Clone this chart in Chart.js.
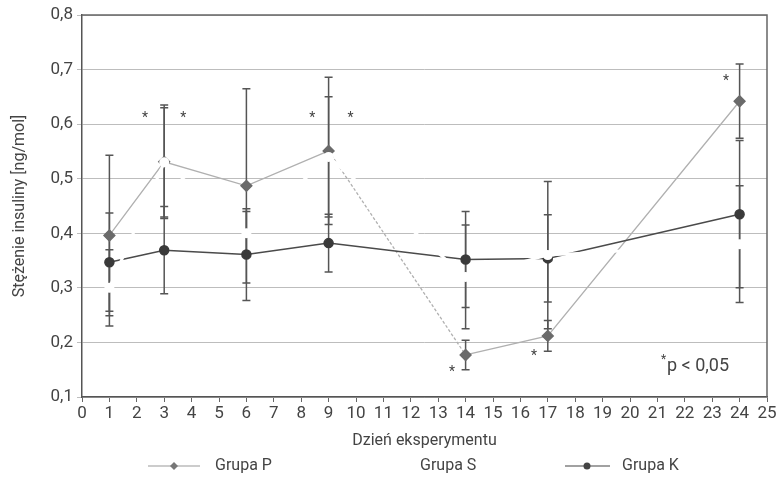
<!DOCTYPE html>
<html>
<head>
<meta charset="utf-8">
<script src="https://cdn.jsdelivr.net/npm/chart.js@4.4.1/dist/chart.umd.min.js"></script>
<style>
    html, body { margin: 0; padding: 0; background: #fff; }
    #wrap { width: 783px; height: 491px; position: relative; }
</style>
</head>
<body>
<div id="wrap"><canvas id="insulinChart"></canvas></div>
<script>
// Days of the experiment
const days = [1, 3, 6, 9, 14, 17, 24];

// Means
const grupaP = [0.396, 0.531, 0.487, 0.551, 0.177, 0.212, 0.642];
const grupaS = [0.300, 0.530, 0.400, 0.540, 0.320, 0.360, 0.380];
const grupaK = [0.347, 0.369, 0.361, 0.382, 0.352, 0.354, 0.435];

// Error bars (+/-)
const errP = [0.147, 0.104, 0.178, 0.135, 0.027, 0.028, 0.068];
const errS = [0.070, 0.100, 0.040, 0.110, 0.095, 0.135, 0.107];
const errK = [0.090, 0.080, 0.084, 0.053, 0.088, 0.080, 0.135];

// Significance markers (*)
const starX = [2.3, 3.7, 8.4, 9.8, 13.5, 16.5, 23.5];
const starY = [0.615, 0.615, 0.615, 0.615, 0.150, 0.180, 0.684];

const yTicks = [0.1, 0.2, 0.3, 0.4, 0.5, 0.6, 0.7, 0.8];

const FONT = "Roboto, 'Liberation Sans Narrow', sans-serif";
const TEXT = '#444';

function toPoints(vals) {
    return days.map(function(d, i) { return {x: d, y: vals[i]}; });
}

const extras = {
    id: 'extras',
    beforeDatasetsDraw(chart) {
        const ctx = chart.ctx;
        const x = chart.scales.x, y = chart.scales.y;
        ctx.save();
        ctx.strokeStyle = '#555';
        ctx.lineWidth = 1.5;
        [[grupaP, errP], [grupaK, errK], [grupaS, errS]].forEach(function(pair) {
            const vals = pair[0], errs = pair[1];
            days.forEach(function(d, i) {
                const px = x.getPixelForValue(d);
                const top = y.getPixelForValue(vals[i] + errs[i]);
                const bot = y.getPixelForValue(vals[i] - errs[i]);
                ctx.beginPath();
                ctx.moveTo(px, top); ctx.lineTo(px, bot);
                ctx.moveTo(px - 4, top); ctx.lineTo(px + 4, top);
                ctx.moveTo(px - 4, bot); ctx.lineTo(px + 4, bot);
                ctx.stroke();
            });
        });
        ctx.restore();
    },
    afterDraw(chart) {
        const ctx = chart.ctx;
        const area = chart.chartArea;
        const x = chart.scales.x, y = chart.scales.y;
        ctx.save();

        // frame top / right
        ctx.strokeStyle = '#666';
        ctx.lineWidth = 1.5;
        ctx.beginPath();
        ctx.moveTo(area.left, area.top);
        ctx.lineTo(area.right, area.top);
        ctx.lineTo(area.right, area.bottom);
        ctx.stroke();

        // asterisks
        ctx.fillStyle = '#444';
        ctx.font = '14px ' + FONT;
        ctx.textAlign = 'center';
        ctx.textBaseline = 'middle';
        starX.forEach(function(sx, i) {
            ctx.fillText('*', x.getPixelForValue(sx), y.getPixelForValue(starY[i]) + 3);
        });

        // p-value note
        ctx.textAlign = 'left';
        ctx.font = '12px ' + FONT;
        ctx.fillText('*', 661, 360);
        ctx.font = '18px ' + FONT;
        ctx.fillText('p < 0,05', 667, 366);

        // x axis title
        ctx.textAlign = 'center';
        ctx.font = '16px ' + FONT;
        ctx.fillText('Dzień eksperymentu', (area.left + area.right) / 2, 441);

        // legend
        ctx.textAlign = 'left';
        ctx.font = '16px ' + FONT;
        const ly = 466;
        ctx.lineWidth = 1.2;
        ctx.strokeStyle = '#999';
        ctx.beginPath(); ctx.moveTo(148, ly); ctx.lineTo(200, ly); ctx.stroke();
        ctx.fillStyle = '#777';
        ctx.beginPath();
        ctx.moveTo(174, ly - 4); ctx.lineTo(178, ly); ctx.lineTo(174, ly + 4); ctx.lineTo(170, ly);
        ctx.closePath(); ctx.fill();
        ctx.fillStyle = TEXT;
        ctx.fillText('Grupa P', 215, ly);

        ctx.fillText('Grupa S', 420, ly);

        ctx.strokeStyle = '#444';
        ctx.beginPath(); ctx.moveTo(565, ly); ctx.lineTo(610, ly); ctx.stroke();
        ctx.fillStyle = '#444';
        ctx.beginPath(); ctx.arc(587, ly, 3.5, 0, Math.PI * 2); ctx.fill();
        ctx.fillStyle = TEXT;
        ctx.fillText('Grupa K', 622, ly);

        ctx.restore();
    }
};

const ctx = document.getElementById('insulinChart').getContext('2d');
new Chart(ctx, {
    type: 'line',
    data: {
        datasets: [
            {
                label: 'Grupa S',
                data: toPoints(grupaS),
                borderColor: '#fff',
                borderWidth: 3,
                pointStyle: 'circle',
                pointRadius: 3.5,
                pointBackgroundColor: '#fff',
                pointBorderColor: '#fff',
                order: 0
            },
            {
                label: 'Grupa K',
                data: toPoints(grupaK),
                borderColor: '#4a4a4a',
                borderWidth: 1.5,
                pointStyle: 'circle',
                pointRadius: 4.5,
                pointBackgroundColor: '#3a3a3a',
                pointBorderColor: '#3a3a3a',
                order: 1
            },
            {
                label: 'Grupa P',
                data: toPoints(grupaP),
                borderColor: '#b0b0b0',
                borderWidth: 1.3,
                segment: {
                    borderDash: function(c) { return c.p0DataIndex === 3 ? [3, 2] : undefined; }
                },
                pointStyle: 'rectRot',
                pointRadius: 5.5,
                pointBackgroundColor: '#6a6a6a',
                pointBorderColor: '#6a6a6a',
                order: 2
            }
        ]
    },
    options: {
        responsive: true,
        maintainAspectRatio: false,
        animation: false,
        layout: { padding: { left: 6, right: 16, top: 15, bottom: 0 } },
        plugins: {
            legend: { display: false },
            tooltip: { enabled: false }
        },
        scales: {
            x: {
                type: 'linear',
                min: 0,
                max: 25,
                ticks: {
                    stepSize: 1,
                    color: TEXT,
                    font: { family: FONT, size: 17 },
                    padding: 2,
                    maxRotation: 0,
                    autoSkip: false
                },
                grid: { drawOnChartArea: false, drawTicks: true, tickLength: 5, color: '#666' },
                border: { color: '#555', width: 1.5 },
                afterFit: function(scale) { scale.height = 94; }
            },
            y: {
                min: 0.1,
                max: 0.8,
                afterBuildTicks: function(scale) {
                    scale.ticks = yTicks.map(function(v) { return {value: v}; });
                },
                ticks: {
                    color: TEXT,
                    font: { family: FONT, size: 17 },
                    padding: 4,
                    callback: function(v) { return v.toFixed(1).replace('.', ','); }
                },
                grid: { color: '#bdbdbd', lineWidth: 1, tickLength: 5 },
                border: { color: '#555', width: 1.5 },
                title: {
                    display: true,
                    text: 'Stężenie insuliny [ng/mol]',
                    color: TEXT,
                    font: { family: FONT, size: 16 },
                    padding: { bottom: 2 }
                },
                afterFit: function(scale) { scale.width = 76; }
            }
        }
    },
    plugins: [extras]
});
</script>
</body>
</html>
